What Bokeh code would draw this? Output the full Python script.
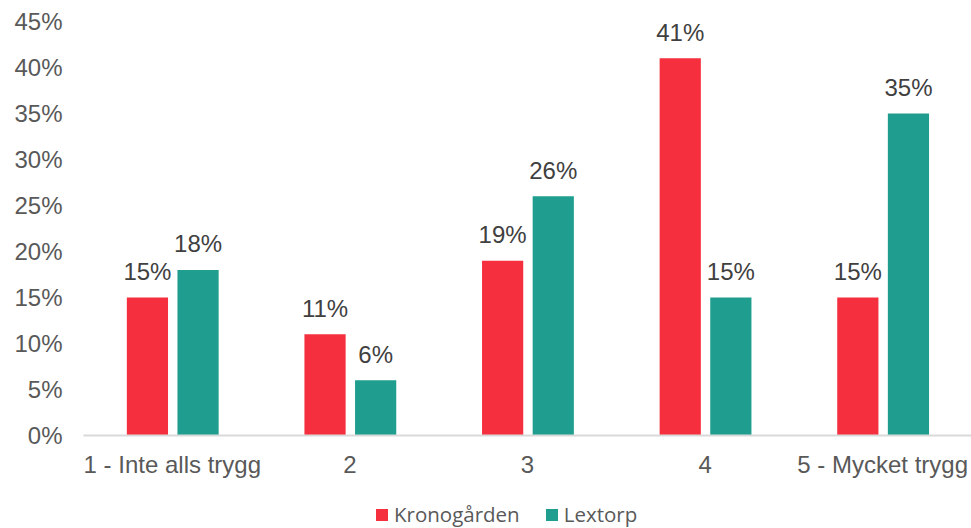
from bokeh.plotting import figure
from bokeh.layouts import column
from bokeh.models import ColumnDataSource, Range1d, FactorRange, FixedTicker, Legend, LegendItem, CustomJSTickFormatter
from bokeh.transform import dodge
from bokeh.core.properties import value
from bokeh.embed import file_html
from bokeh.resources import INLINE

categories = ["1 - Inte alls trygg", "2", "3", "4", "5 - Mycket trygg"]
kronogarden = [15, 11, 19, 41, 15]
lextorp = [18, 6, 26, 15, 35]
y_ticks = [0, 5, 10, 15, 20, 25, 30, 35, 40, 45]
series_names = ["Kronogården", "Lextorp"]

src = ColumnDataSource(dict(
    cat=categories,
    k=kronogarden,
    l=lextorp,
    kl=[f"{v}%" for v in kronogarden],
    ll=[f"{v}%" for v in lextorp],
))

RED = "#F52F3D"
TEAL = "#1F9E8F"
FONT = "Liberation Sans"

p = figure(
    x_range=FactorRange(*categories),
    y_range=Range1d(0, 45),
    width=971, height=488,
    output_backend="svg", toolbar_location=None,
    min_border_left=83, min_border_right=0, min_border_top=21, min_border_bottom=53,
)
p.outline_line_color = None
p.xgrid.grid_line_color = None
p.ygrid.grid_line_color = None

p.vbar(x=dodge("cat", -0.14, range=p.x_range), top="k", width=0.232, source=src,
       fill_color=RED, line_color=None)
p.vbar(x=dodge("cat", 0.145, range=p.x_range), top="l", width=0.232, source=src,
       fill_color=TEAL, line_color=None)

p.text(x=dodge("cat", -0.14, range=p.x_range), y="k", text="kl", source=src,
       text_align="center", text_baseline="alphabetic", y_offset=-26,
       text_font=value(FONT), text_font_size="24px", text_color="#404040")
p.text(x=dodge("cat", 0.145, range=p.x_range), y="l", text="ll", source=src,
       text_align="center", text_baseline="alphabetic", y_offset=-26,
       text_font=value(FONT), text_font_size="24px", text_color="#404040")

# y axis
p.yaxis.ticker = FixedTicker(ticks=y_ticks)
p.yaxis.formatter = CustomJSTickFormatter(code="return tick + '%';")
p.yaxis.axis_line_color = None
p.yaxis.major_tick_line_color = None
p.yaxis.minor_tick_line_color = None
p.yaxis.major_label_standoff = 15
p.yaxis.major_label_text_font = FONT
p.yaxis.major_label_text_font_size = "24px"
p.yaxis.major_label_text_color = "#595959"

# x axis
p.xaxis.axis_line_color = "#D9D9D9"
p.xaxis.axis_line_width = 2
p.xaxis.major_tick_line_color = None
p.xaxis.minor_tick_line_color = None
p.xaxis.major_label_standoff = 9
p.xaxis.major_label_text_font = FONT
p.xaxis.major_label_text_font_size = "24px"
p.xaxis.major_label_text_color = "#595959"

# legend strip
lf = figure(width=971, height=40, x_range=Range1d(0, 1), y_range=Range1d(0, 1),
            x_axis_type=None, y_axis_type=None, output_backend="svg", toolbar_location=None,
            min_border_left=0, min_border_right=0, min_border_top=0, min_border_bottom=0)
lf.outline_line_color = None
lf.xgrid.grid_line_color = None
lf.ygrid.grid_line_color = None
dummy = ColumnDataSource(dict(x=[-10], t=[0]))
g1 = lf.vbar(x="x", top="t", width=0.1, source=dummy, fill_color=RED, line_color=None)
g2 = lf.vbar(x="x", top="t", width=0.1, source=dummy, fill_color=TEAL, line_color=None)
legend = Legend(items=[LegendItem(label=series_names[0], renderers=[g1]),
                       LegendItem(label=series_names[1], renderers=[g2])],
                orientation="horizontal", location=(291, 0),
                label_text_font="Open Sans", label_text_font_size="20.5px",
                label_text_color="#595959", glyph_width=15, glyph_height=15,
                spacing=24, label_standoff=5, border_line_color=None,
                background_fill_alpha=0, margin=0, padding=0)
lf.add_layout(legend, "center")

open("out.html", "w").write(file_html(column(p, lf, spacing=0), INLINE))
